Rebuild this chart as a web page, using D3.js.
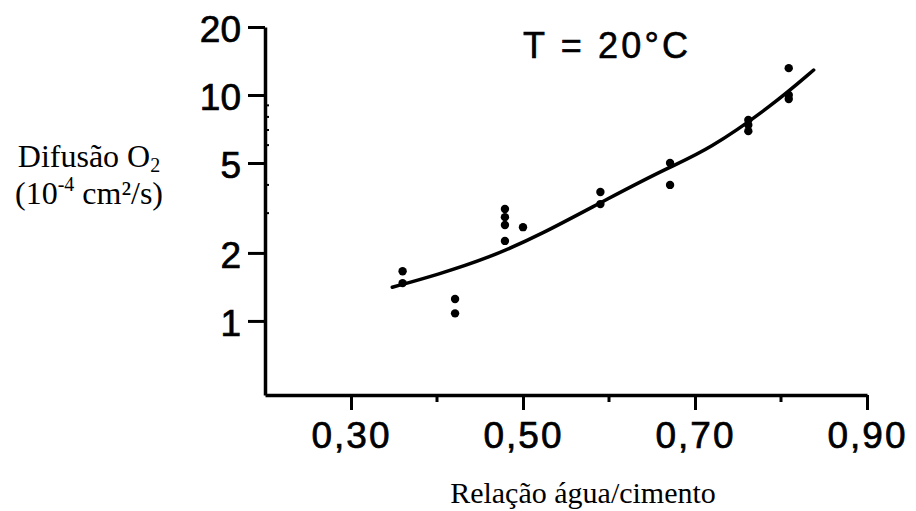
<!DOCTYPE html>
<html>
<head>
<meta charset="utf-8">
<script src="https://cdn.jsdelivr.net/npm/d3@7"></script>
<style>
  body { margin: 0; background: #fff; }
  svg { display: block; }
</style>
</head>
<body>
<div id="Area"></div>
<script>
// tick values
var xTicks = [0.3, 0.5, 0.7, 0.9];
var xMinor = [0.4, 0.6, 0.8];
var yTicks = [1, 2, 5, 10, 20];
var yMinor = [3, 4, 6, 7, 8, 9];

// measured points (water/cement ratio, O2 diffusion)
var pointX = [0.36, 0.36, 0.421, 0.421, 0.479, 0.479, 0.479, 0.479, 0.50,
              0.59, 0.59, 0.671, 0.671, 0.762, 0.762, 0.762, 0.809, 0.809, 0.809];
var pointY = [1.66, 1.47, 1.25, 1.08, 3.13, 2.88, 2.66, 2.26, 2.60,
              3.72, 3.29, 5.0, 4.0, 7.75, 7.36, 6.92, 13.15, 10.0, 9.6];

// fitted curve
var curveX = [0.348, 0.40, 0.46, 0.52, 0.60, 0.67, 0.715, 0.79, 0.838];
var curveY = [1.41, 1.60, 1.90, 2.40, 3.50, 4.80, 5.70, 9.0, 12.9];

var width = 916, height = 511;

var svg = d3.select("#Area")
  .append("svg")
  .attr("width", width)
  .attr("height", height);

var x = d3.scaleLinear()
  .domain([0.2, 0.9])
  .range([265, 867]);

var y = d3.scaleLog()
  .domain([0.47, 20])
  .range([395, 27]);

// Y axis
var yAxis = svg.append("g")
  .attr("transform", "translate(265,0)")
  .call(d3.axisLeft(y)
    .tickValues(yTicks)
    .tickSize(17)
    .tickSizeOuter(0)
    .tickPadding(7)
    .tickFormat(d3.format("d")));

// X axis
var xAxis = svg.append("g")
  .attr("transform", "translate(0,395)")
  .call(d3.axisBottom(x)
    .tickValues(xTicks)
    .tickSize(15)
    .tickSizeOuter(0)
    .tickPadding(12)
    .tickFormat(function(d) { return d.toFixed(2).replace(".", ","); }));

[yAxis, xAxis].forEach(function(ax) {
  ax.select(".domain").attr("stroke", "#000").attr("stroke-width", 3.5);
  ax.selectAll(".tick line").attr("stroke", "#000").attr("stroke-width", 3);
  ax.selectAll(".tick text")
    .attr("fill", "#000")
    .attr("stroke", "#000")
    .attr("stroke-width", 0.7)
    .style("font-family", "'Liberation Sans', Arial, sans-serif")
    .style("font-size", "37px");
});
yAxis.selectAll(".tick text").attr("dy", "0.4em");
xAxis.selectAll(".tick text").attr("letter-spacing", "2px");

// minor ticks (small marks on the inner side)
svg.append("g").selectAll("line")
  .data(yMinor)
  .join("line")
  .attr("x1", 264).attr("x2", 269)
  .attr("y1", function(d) { return y(d); })
  .attr("y2", function(d) { return y(d); })
  .attr("stroke", "#000")
  .attr("stroke-width", 2);

svg.append("g").selectAll("line")
  .data(xMinor)
  .join("line")
  .attr("x1", function(d) { return x(d); })
  .attr("x2", function(d) { return x(d); })
  .attr("y1", 395).attr("y2", 402)
  .attr("stroke", "#000")
  .attr("stroke-width", 3);

// fitted curve
var curveData = curveX.map(function(v, i) { return [v, curveY[i]]; });
svg.append("path")
  .datum(curveData)
  .attr("d", d3.line()
    .x(function(d) { return x(d[0]); })
    .y(function(d) { return y(d[1]); })
    .curve(d3.curveBasis))
  .attr("fill", "none")
  .attr("stroke", "#000")
  .attr("stroke-width", 3.5)
  .attr("stroke-linecap", "round");

// points
var pts = pointX.map(function(v, i) { return [v, pointY[i]]; });
svg.append("g").selectAll("circle")
  .data(pts)
  .join("circle")
  .attr("cx", function(d) { return x(d[0]); })
  .attr("cy", function(d) { return y(d[1]); })
  .attr("r", 4.2)
  .attr("fill", "#000");

// temperature note
svg.append("text")
  .attr("x", 523)
  .attr("y", 58)
  .attr("textLength", 165)
  .attr("lengthAdjust", "spacing")
  .attr("stroke", "#000")
  .attr("stroke-width", 0.6)
  .style("font-family", "'Liberation Sans', Arial, sans-serif")
  .style("font-size", "36px")
  .text("T = 20°C");

// Y label
var yLab = svg.append("text")
  .attr("text-anchor", "middle")
  .style("font-family", "'Liberation Serif', 'Times New Roman', serif")
  .style("font-size", "32px");
var l1 = yLab.append("tspan").attr("x", 89).attr("y", 167);
l1.append("tspan").text("Difusão O");
l1.append("tspan").attr("dy", 5).style("font-size", "20px").text("2");
var l2 = yLab.append("tspan").attr("x", 89).attr("y", 204);
l2.append("tspan").text("(10");
l2.append("tspan").attr("dy", -13).style("font-size", "20px").text("-4");
l2.append("tspan").attr("dy", 13).text(" cm²/s)");

// X label
svg.append("text")
  .attr("x", 583)
  .attr("y", 503)
  .attr("text-anchor", "middle")
  .style("font-family", "'Liberation Serif', 'Times New Roman', serif")
  .style("font-size", "30px")
  .text("Relação água/cimento");
</script>
</body>
</html>
